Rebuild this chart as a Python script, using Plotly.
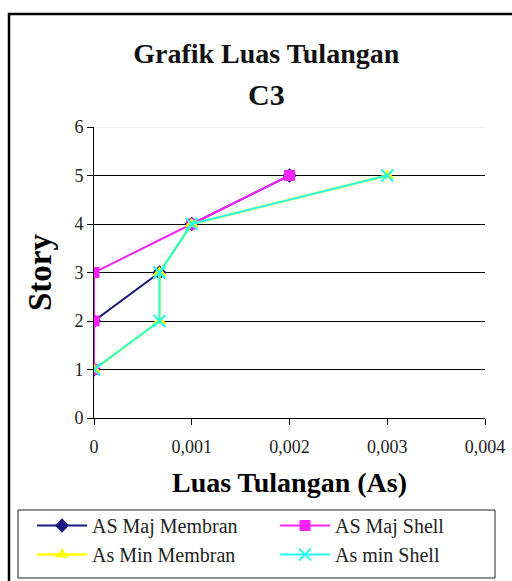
import plotly.graph_objects as go

# Story levels and reinforcement areas per series
story = [1, 2, 3, 4, 5]
as_maj_membran = [0, 0, 0.00067, 0.001, 0.002]
as_maj_shell = [0, 0, 0, 0.001, 0.002]
as_min_membran = [0, 0.00067, 0.00067, 0.001, 0.003]
as_min_shell = [0, 0.00067, 0.00067, 0.001, 0.003]

x_tickvals = [0, 0.001, 0.002, 0.003, 0.004]
x_ticktext = ["0", "0,001", "0,002", "0,003", "0,004"]
y_tickvals = [0, 1, 2, 3, 4, 5, 6]
grid_levels = [1, 2, 3, 4, 5]

title_line1 = "Grafik Luas Tulangan"
title_line2 = "C3"

SERIF = "Times New Roman, Liberation Serif, serif"

# plot-area geometry in pixels (used to place paper-referenced items)
W, H = 512, 581
L, R, T, B = 94, 27, 127, 163
PW, PH = W - L - R, H - T - B


def px_x(p):
    return (p - L) / PW


def px_y(p):
    return (H - B - p) / PH


fig = go.Figure()

fig.add_trace(go.Scatter(
    x=as_maj_membran, y=story, name="AS Maj Membran", mode="lines+markers",
    line=dict(color="#1a1a80", width=2),
    marker=dict(symbol="diamond", size=11, color="#1a1a80"),
))
fig.add_trace(go.Scatter(
    x=as_maj_shell, y=story, name="AS Maj Shell", mode="lines+markers",
    line=dict(color="#ff22ff", width=2),
    marker=dict(symbol="square", size=11, color="#ff22ff"),
))
fig.add_trace(go.Scatter(
    x=as_min_membran, y=story, name="As Min Membran", mode="lines+markers",
    line=dict(color="#ffff00", width=2.5),
    marker=dict(symbol="triangle-up", size=12, color="#ffff00"),
))
fig.add_trace(go.Scatter(
    x=as_min_shell, y=story, name="As min Shell", mode="lines+markers",
    line=dict(color="#22ffee", width=2),
    marker=dict(symbol="x-thin", size=12, color="#22ffee",
                line=dict(color="#22ffee", width=2)),
))

# Invisible trace on the overlay axis so its gridlines are rendered
fig.add_trace(go.Scatter(x=[None], y=[None], yaxis="y2", showlegend=False,
                         hoverinfo="skip"))

fig.update_layout(
    width=W, height=H,
    margin=dict(l=L, r=R, t=T, b=B, autoexpand=False),
    paper_bgcolor="white", plot_bgcolor="white",
    font=dict(family=SERIF, color="black", size=17),
    title=dict(
        text="<b>" + title_line1 + "</b>",
        x=0.52, xref="container", xanchor="center",
        y=1 - 53 / H, yref="container", yanchor="middle",
        font=dict(family=SERIF, size=28, color="#111111"),
    ),
    annotations=[
        dict(text="<b>" + title_line2 + "</b>", showarrow=False,
             xref="paper", yref="paper", x=px_x(266), y=px_y(95),
             xanchor="center", yanchor="middle",
             font=dict(family=SERIF, size=30, color="#111111")),
    ],
    xaxis=dict(
        range=[0, 0.004], tickvals=x_tickvals, ticktext=x_ticktext,
        showgrid=False, zeroline=False,
        showline=True, linecolor="black", linewidth=1,
        ticks="outside", ticklen=6, tickcolor="black",
        ticklabelstandoff=6,
        title=dict(text="<b>Luas Tulangan (As)</b>",
                   font=dict(family=SERIF, size=28), standoff=16),
        tickfont=dict(family=SERIF, size=18, color="#222222"),
    ),
    yaxis=dict(
        range=[0, 6], tickvals=y_tickvals,
        showgrid=False, zeroline=False,
        showline=True, linecolor="black", linewidth=1,
        ticks="outside", ticklen=6, tickcolor="black",
        title=dict(text="<b>Story</b>",
                   font=dict(family=SERIF, size=33), standoff=12),
        tickfont=dict(family=SERIF, size=18, color="#222222"),
    ),
    yaxis2=dict(
        range=[0, 6], overlaying="y", tickvals=grid_levels,
        showgrid=True, gridcolor="black", gridwidth=1,
        showticklabels=False, ticks="", zeroline=False, showline=False,
    ),
    legend=dict(
        orientation="h",
        xref="paper", yref="paper",
        x=px_x(32), xanchor="left", y=px_y(506), yanchor="top",
        itemwidth=50,
        entrywidth=178, entrywidthmode="pixels",
        borderwidth=0, bgcolor="rgba(0,0,0,0)",
        font=dict(family=SERIF, size=20, color="#222222"),
        tracegroupgap=0,
    ),
    shapes=[
        # faint top gridline at story 6
        dict(type="line", xref="paper", yref="y", x0=0, x1=1, y0=6, y1=6,
             line=dict(color="#e6e6e6", width=1)),
        # outer chart border
        dict(type="rect", xref="paper", yref="paper",
             x0=px_x(9), x1=px_x(520), y0=px_y(590), y1=px_y(14),
             line=dict(color="black", width=2.5)),
        # legend frame
        dict(type="rect", xref="paper", yref="paper",
             x0=px_x(18), x1=px_x(495), y0=px_y(578), y1=px_y(510),
             line=dict(color="#222222", width=1), fillcolor="white",
             layer="below"),
    ],
)

fig.write_html("out.html")
